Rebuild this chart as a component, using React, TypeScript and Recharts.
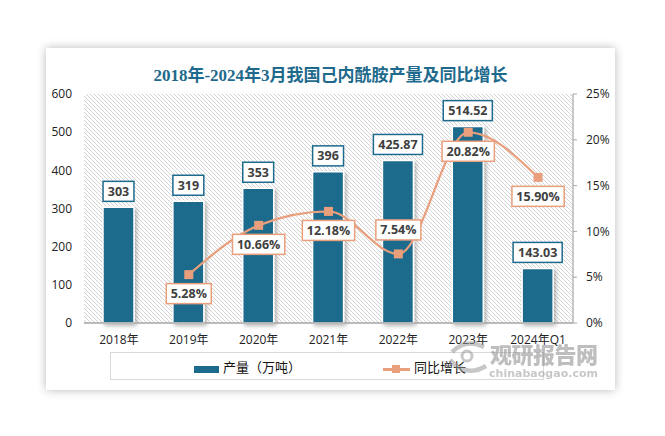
import React from 'react';
import { ComposedChart, Bar, Line, XAxis, YAxis, CartesianGrid, LabelList } from 'recharts';

const categories = ['2018年', '2019年', '2020年', '2021年', '2022年', '2023年', '2024年Q1'];
const outputValues = [303, 319, 353, 396, 425.87, 514.52, 143.03];
const growthValues: (number | null)[] = [null, 5.28, 10.66, 12.18, 7.54, 20.82, 15.9];
const leftTicks = [0, 100, 200, 300, 400, 500, 600];
const rightTicks = [0, 5, 10, 15, 20, 25];

const data = categories.map((c, i) => ({ name: c, output: outputValues[i], growth: growthValues[i] }));

const BAR_COLOR = '#1C6A8C';
const LINE_COLOR = '#E99E7C';
const FONT = "'Open Sans', 'Noto Sans CJK SC', sans-serif";

function textWidth(s: string) {
  let w = 0;
  for (const ch of s) {
    if (ch === '.') w += 3.6;
    else if (ch === '%') w += 10.5;
    else w += 7.3;
  }
  return w;
}

const BarLabel = (props: any) => {
  const { x, y, width, value } = props;
  if (value == null) return null;
  const s = String(value);
  const w = textWidth(s) + 9;
  const h = 20;
  const cx = Number(x) + Number(width) / 2;
  const bottom = Number(y) - 6;
  return (
    <g>
      <rect x={cx - w / 2} y={bottom - h} width={w} height={h} fill="#fff" stroke={BAR_COLOR} strokeWidth={1.5} />
      <text x={cx} y={bottom - h / 2} dy="0.36em" textAnchor="middle" fontFamily={FONT} fontSize={12.5} fontWeight={700} fill="#404040">
        {s}
      </text>
    </g>
  );
};

const LineLabel = (props: any) => {
  const { x, y, value, index } = props;
  if (value == null) return null;
  const s = Number(value).toFixed(2) + '%';
  const w = textWidth(s) + 9;
  const h = 20;
  const cx = Number(x);
  const above = index === 4;
  const top = above ? Number(y) - 14 - h : Number(y) + 9;
  return (
    <g>
      <rect x={cx - w / 2} y={top} width={w} height={h} fill="#fff" stroke={LINE_COLOR} strokeWidth={1.5} />
      <text x={cx} y={top + h / 2} dy="0.36em" textAnchor="middle" fontFamily={FONT} fontSize={12.5} fontWeight={700} fill="#404040">
        {s}
      </text>
    </g>
  );
};

const SquareDot = (props: any) => {
  const { cx, cy, index } = props;
  if (cx == null || cy == null || props.value == null) return <g key={'d' + index} />;
  return <rect key={'d' + index} x={cx - 4.5} y={cy - 4.5} width={9} height={9} fill={LINE_COLOR} />;
};

export default function App() {
  return (
    <div style={{ position: 'absolute', left: 0, top: 0, width: 665, height: 436, background: '#fff', overflow: 'hidden' }}>
      <svg width={0} height={0} style={{ position: 'absolute' }}>
        <defs>
          <pattern id="hatch" patternUnits="userSpaceOnUse" width={4} height={4}>
            <rect width={4} height={4} fill="#fff" />
            <path d="M0,0 L4,4 M-1,3 L1,5 M3,-1 L5,1" stroke="#CFCFCF" strokeWidth={0.9} />
          </pattern>
          <filter id="shadow" x="-30%" y="-10%" width="160%" height="130%">
            <feDropShadow dx={2} dy={2} stdDeviation={2} floodColor="#000" floodOpacity={0.3} />
          </filter>
        </defs>
      </svg>
      <div
        style={{
          position: 'absolute',
          left: 46,
          top: 48,
          width: 569,
          height: 342,
          background: '#fff',
          boxShadow: '0 0 9px rgba(0,0,0,0.28)',
        }}
      />
      <div
        style={{
          position: 'absolute',
          left: 46,
          width: 569,
          top: 61,
          textAlign: 'center',
          fontFamily: "'Liberation Serif', 'Noto Sans CJK SC', serif",
          fontWeight: 700,
          fontSize: 17,
          color: '#1E6A8C',
        }}
      >
        2018年-2024年3月我国己内酰胺产量及同比增长
      </div>
      <div style={{ position: 'absolute', left: 0, top: 0 }}>
        <ComposedChart width={665} height={436} data={data} margin={{ top: 94, left: 44, right: 52, bottom: 83 }} barCategoryGap={0}>
          <CartesianGrid horizontal={false} vertical={false} fill="url(#hatch)" stroke="none" />
          <XAxis
            dataKey="name"
            height={30}
            tickLine={false}
            tickSize={0}
            tickMargin={12}
            axisLine={{ stroke: '#A6A6A6', strokeWidth: 1.5 }}
            tick={{ fontSize: 12, fill: '#222', fontFamily: FONT }}
            interval={0}
          />
          <YAxis
            yAxisId="left"
            width={40}
            domain={[0, 600]}
            ticks={leftTicks}
            axisLine={false}
            tickLine={false}
            tickSize={0}
            tickMargin={12}
            tick={{ fontSize: 12, fill: '#222', fontFamily: FONT }}
          />
          <YAxis
            yAxisId="right"
            orientation="right"
            width={40}
            domain={[0, 25]}
            ticks={rightTicks}
            tickFormatter={(v: number) => v + '%'}
            axisLine={{ stroke: '#A6A6A6', strokeWidth: 1.2 }}
            tickLine={{ stroke: '#A6A6A6' }}
            tickSize={4}
            tickMargin={9}
            tick={{ fontSize: 12, fill: '#222', fontFamily: FONT }}
          />
          <Bar
            yAxisId="left"
            dataKey="output"
            barSize={31}
            fill={BAR_COLOR}
            stroke="#fff"
            strokeWidth={1.5}
            filter="url(#shadow)"
            isAnimationActive={false}
          >
            <LabelList dataKey="output" content={BarLabel} />
          </Bar>
          <Line
            yAxisId="right"
            dataKey="growth"
            type="monotone"
            stroke={LINE_COLOR}
            strokeWidth={2.2}
            dot={SquareDot}
            activeDot={false}
            isAnimationActive={false}
          >
            <LabelList dataKey="growth" content={LineLabel} />
          </Line>
        </ComposedChart>
      </div>
      <div
        style={{
          position: 'absolute',
          left: 110,
          top: 352,
          width: 434,
          height: 28,
          border: '1px solid #D9D9D9',
          boxSizing: 'border-box',
        }}
      />
      <div style={{ position: 'absolute', left: 194, top: 366, width: 25, height: 7, background: BAR_COLOR }} />
      <div style={{ position: 'absolute', left: 223, top: 357, fontFamily: FONT, fontSize: 13, color: '#111', whiteSpace: 'nowrap' }}>
        产量（万吨）
      </div>
      <div style={{ position: 'absolute', left: 383, top: 368, width: 27, height: 2.5, background: LINE_COLOR }} />
      <div style={{ position: 'absolute', left: 392, top: 365, width: 8, height: 8, background: LINE_COLOR }} />
      <div style={{ position: 'absolute', left: 414, top: 357, fontFamily: FONT, fontSize: 13, color: '#111', whiteSpace: 'nowrap' }}>
        同比增长
      </div>
      <svg width={665} height={436} style={{ position: 'absolute', left: 0, top: 0, pointerEvents: 'none' }}>
        <g opacity={0.55}>
          <path d="M 452 352 Q 466 338 484 347" fill="none" stroke="#9A9A9A" strokeWidth={4.5} />
          <path d="M 450 360 Q 466 378 486 366" fill="none" stroke="#9A9A9A" strokeWidth={4.5} />
          <circle cx={467} cy={356} r={5} fill="none" stroke="#9A9A9A" strokeWidth={3} />
          <text x={490} y={363} fontFamily="'Noto Sans CJK SC', sans-serif" fontWeight={900} fontSize={22} fill="#8A8A8A" textLength={108}>
            观研报告网
          </text>
          <text x={489} y={377} fontFamily="'DejaVu Sans', sans-serif" fontWeight={700} fontSize={11} fill="#9A9A9A" textLength={109}>
            chinabaogao.com
          </text>
        </g>
      </svg>
    </div>
  );
}
